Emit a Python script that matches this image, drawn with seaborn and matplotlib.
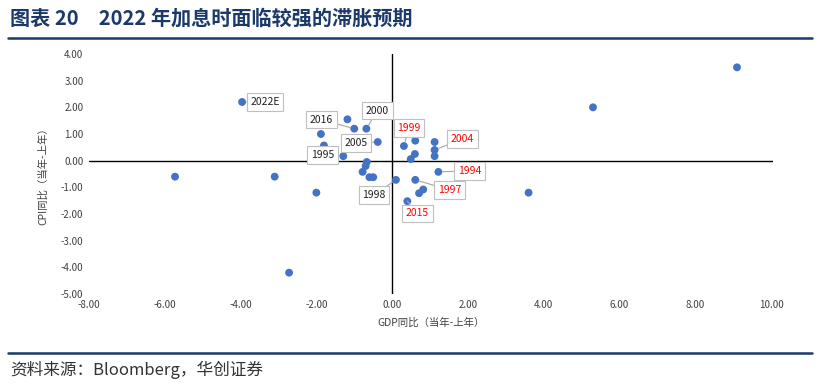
import numpy as np
import pandas as pd
import seaborn as sns
import matplotlib.pyplot as plt

# 数据：GDP同比变化 vs CPI同比变化
gdp = [9.1, 5.3, -3.96, -5.73, -3.1, -2.0, -2.72, 3.6, -1.18, -1.0, -0.68, -1.88, -1.8,
       -0.38, -1.29, 0.31, 0.61, 0.6, 0.49, 1.12, 1.12, 1.12, 1.22, -0.67, -0.7, -0.78,
       -0.6, -0.5, 0.1, 0.61, 0.82, 0.71, 0.4]
cpi = [3.5, 2.0, 2.2, -0.6, -0.6, -1.2, -4.2, -1.2, 1.55, 1.2, 1.2, 1.0, 0.57,
       0.7, 0.17, 0.55, 0.75, 0.25, 0.06, 0.7, 0.4, 0.17, -0.42, -0.05, -0.2, -0.42,
       -0.62, -0.62, -0.72, -0.72, -1.08, -1.22, -1.52]
year = ['', '', '2022E', '', '', '', '', '', '', '2016', '2000', '', '',
        '2005', '1995', '1999', '', '', '', '', '2004', '', '1994', '', '', '',
        '', '', '1998', '1997', '', '', '2015']
red_years = ['1999', '2004', '1994', '1997', '2015']

xticks = [-8, -6, -4, -2, 0, 2, 4, 6, 8, 10]
yticks = [4, 3, 2, 1, 0, -1, -2, -3, -4, -5]

# 标签偏移（像素）
label_offset = {
    '2022E': (23, 0), '2016': (-33, 9), '2000': (11, 18), '1995': (-21, 1),
    '2005': (-22, -1), '1999': (5, 18), '2004': (28, 11), '1994': (31, 1),
    '1998': (-22, -15), '1997': (34, -10), '2015': (10, -12),
}

df = pd.DataFrame({'gdp': gdp, 'cpi': cpi, 'year': year})

sns.set_style('white')
plt.rcParams['font.family'] = ['Noto Sans CJK SC', 'DejaVu Sans']

fig = plt.figure(figsize=(8.23, 3.85), dpi=100)
ax = fig.add_axes([89 / 823, 1 - 294 / 385, (773 - 89) / 823, (294 - 54) / 385])

sns.scatterplot(data=df, x='gdp', y='cpi', ax=ax, color='#4472C4', s=32,
                edgecolor='none', zorder=3)

ax.axhline(0, color='black', lw=1, zorder=1)
ax.axvline(0, color='black', lw=1, zorder=1)

ax.set_xlim(-8, 10.05)
ax.set_ylim(-5, 4)
ax.set_xticks(xticks)
ax.set_yticks(yticks)
ax.set_xticklabels([f'{v:.2f}' for v in xticks])
ax.set_yticklabels([f'{v:.2f}' for v in yticks])
ax.tick_params(length=0, labelsize=7, colors='#404040', pad=4)
for s in ax.spines.values():
    s.set_visible(False)

ax.set_xlabel('GDP同比（当年-上年）', fontsize=7.5, color='#404040', labelpad=6)
ax.set_ylabel('CPI同比（当年-上年）', fontsize=7.5, color='#404040', labelpad=9)

# 数据标签
for _, r in df[df['year'] != ''].iterrows():
    lab = r['year']
    ax.annotate(lab, xy=(r['gdp'], r['cpi']), xytext=label_offset[lab],
                textcoords='offset pixels', ha='center', va='center',
                fontsize=7.5, color='#FF0000' if lab in red_years else '#202020',
                bbox=dict(boxstyle='square,pad=0.35', fc='white', ec='#BFBFBF', lw=0.8),
                arrowprops=dict(arrowstyle='-', color='#A6A6A6', lw=0.8,
                                shrinkA=0, shrinkB=3),
                zorder=4)

# 标题与分隔线
navy = '#1B3A6B'
fig.text(10 / 823, 1 - 18 / 385, '图表 20　2022 年加息时面临较强的滞胀预期',
         fontsize=14.5, fontweight='bold', color=navy, va='center', ha='left')
fig.add_artist(plt.Line2D([8 / 823, 812 / 823], [1 - 38 / 385] * 2,
                          color=navy, lw=1.8))
fig.add_artist(plt.Line2D([8 / 823, 812 / 823], [1 - 353 / 385] * 2,
                          color=navy, lw=1.8))
fig.text(10 / 823, 1 - 370 / 385, '资料来源：Bloomberg，华创证券',
         fontsize=12, color='#333333', va='center', ha='left')

fig.savefig('out.png', dpi=100)
